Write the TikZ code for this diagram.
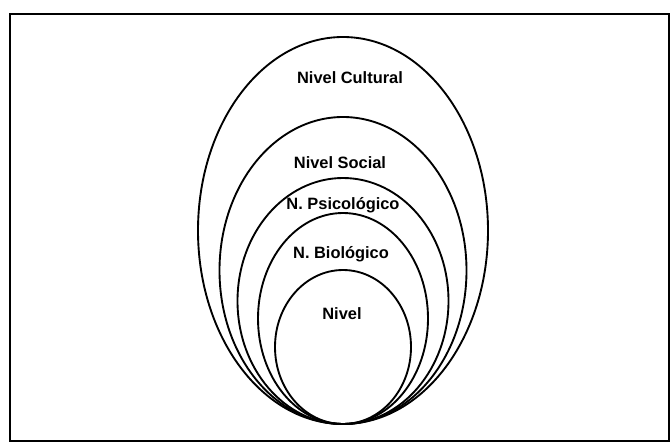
\documentclass[tikz,border=0pt]{standalone}
\usepackage{fontspec}
\setmainfont{Liberation Sans}
\usepackage{tikz}
\usetikzlibrary{positioning,calc}

\begin{document}
\begin{tikzpicture}[x=0.03cm,y=-0.03cm,
  lab/.style={font=\bfseries\fontsize{14}{16}\selectfont,inner sep=0pt,anchor=center},
  ring/.style={line width=1.6pt},
  frame/.style={line width=2.4pt}]
\useasboundingbox (0,0) rectangle (671,442);
% outer frame
\draw[frame] (10,14) rectangle (669,441);
% nested levels, all touching at the bottom point
\coordinate (base) at (343,424);
\foreach \rx/\ry in {145/193.5, 123.5/153.5, 105.5/123, 85/105.5, 68/77}{
  \draw[ring] ($(base)+(0,-\ry)$) ellipse [x radius=\rx, y radius=\ry];
}
% level labels
\node[lab] (cult) at (350,78) {Nivel Cultural};
\node[lab] (soc) at (340,163) {Nivel Social};
\node[lab] (psi) at (343,205) {N. Psicológico};
\node[lab] (bio) at (341,254) {N. Biológico};
\node[lab] (niv) at (342,314) {Nivel};
\end{tikzpicture}
\end{document}
